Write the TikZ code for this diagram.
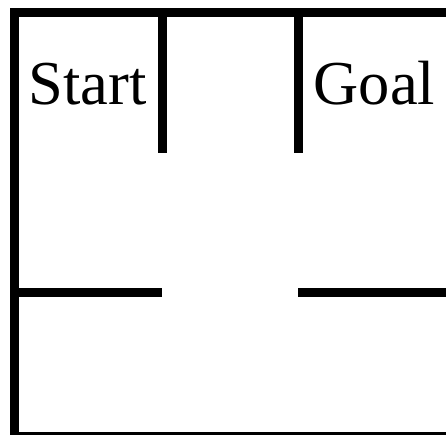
\documentclass[tikz,border=0pt]{standalone}
\usepackage{fontspec}
\setmainfont{Liberation Serif}
\begin{document}
\begin{tikzpicture}[x=1pt,y=-1pt,
  wall/.style={line width=9pt,line cap=butt,line join=miter},
  lbl/.style={inner sep=0pt,anchor=base west,font=\fontsize{62.5}{62.5}\selectfont}]
\useasboundingbox (0,0) rectangle (446,435);
\begin{scope}
\clip (0,0) rectangle (446,435);
\draw[wall] (14.5,445) -- (14.5,12.5) -- (455,12.5);
\draw[wall] (14.5,436.5) -- (455,436.5);
\draw[wall] (162.5,12.5) -- (162.5,153);
\draw[wall] (298.5,12.5) -- (298.5,153);
\draw[wall] (14.5,292.5) -- (162,292.5);
\draw[wall] (298,292.5) -- (455,292.5);
\end{scope}
\node[lbl] (start) at (28.5,105) {Start};
\node[lbl] (goal) at (313.5,105) {Goal};
\end{tikzpicture}
\end{document}
